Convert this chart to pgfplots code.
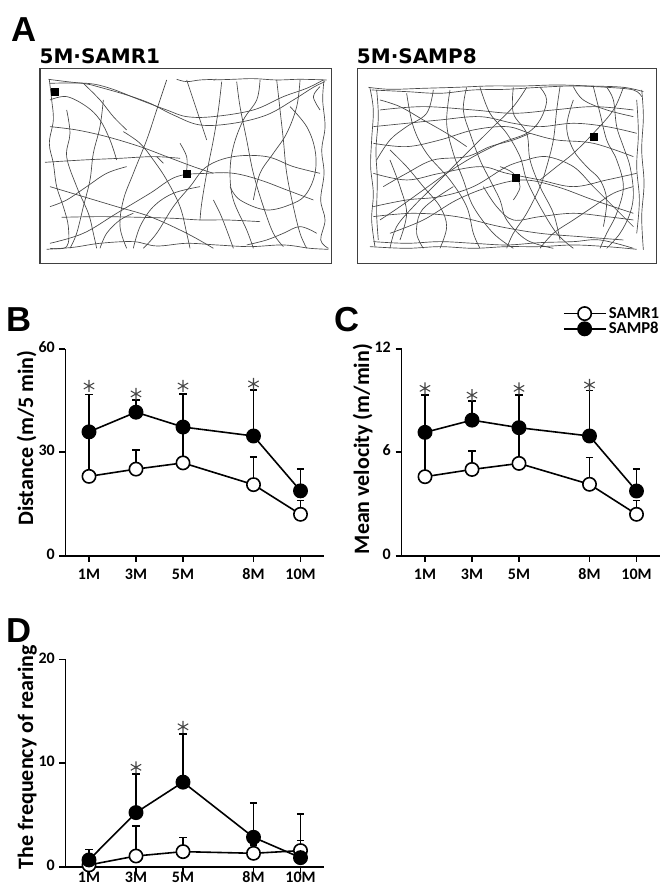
\documentclass[border=0pt]{standalone}
\usepackage{fontspec}
\setmainfont{Carlito}
\newfontfamily\djv{DejaVu Sans}
\newfontfamily\lib{Liberation Sans}
\usepackage{pgfplots}
\pgfplotsset{compat=1.18}

\newcommand{\tickfont}{\fontsize{12pt}{14pt}\selectfont\bfseries}
\newcommand{\labfont}{\fontsize{16.5pt}{19pt}\selectfont\bfseries}
\newcommand{\letfont}{\lib\fontsize{26pt}{28pt}\selectfont\bfseries}
\newcommand{\subfont}{\djv\fontsize{15pt}{17pt}\selectfont\bfseries}

\pgfplotsset{
  panel/.style={
    scale only axis, width=193.875pt, height=155.25pt,
    xmin=0, xmax=11, ymin=0,
    axis x line*=bottom, axis y line*=left,
    axis line style={-, line width=1.2pt},
    xtick={1,3,5,8,10}, xticklabels={1M,3M,5M,8M,10M},
    typeset ticklabels with strut,
    tick align=outside, major tick length=4.5pt,
    every tick/.style={black, line width=1.2pt},
    tick label style={font=\tickfont},
    /pgf/number format/assume math mode=true,
    clip=false,
  },
  r1/.style={black, line width=1.2pt, mark=*, mark size=5pt,
    mark options={fill=white, line width=1.2pt},
    error bars/y dir=plus, error bars/y explicit,
    error bars/error bar style={line width=1.2pt},
    error bars/error mark options={rotate=90, line width=1.2pt, mark size=2.7pt}},
  p8/.style={black, line width=1.2pt, mark=*, mark size=5pt,
    mark options={fill=black, line width=1.2pt},
    error bars/y dir=plus, error bars/y explicit,
    error bars/error bar style={line width=1.2pt},
    error bars/error mark options={rotate=90, line width=1.2pt, mark size=2.7pt}},
  star/.style={only marks, mark=asterisk, mark size=4.5pt, black!72,
    mark options={line width=0.8pt}, forget plot},
  arena/.style={scale only axis, height=146.25pt, xtick=\empty, ytick=\empty,
    y dir=reverse, axis line style={black!75, line width=0.9pt}},
  traj/.style={black!72, line width=0.5pt, smooth, tension=0.6, no markers},
}

% distance (m/5 min)
\pgfplotstableread{
x   y     e
1   23.0  12.0
3   25.1  5.5
5   26.9  9.0
8   20.6  8.0
10  12.0  4.0
}\distRone
\pgfplotstableread{
x   y     e
1   35.9  10.8
3   41.6  3.5
5   37.3  9.6
8   34.7  13.4
10  18.8  6.4
}\distPeight
% mean velocity (m/min)
\pgfplotstableread{
x   y     e
1   4.58  2.4
3   5.00  1.07
5   5.35  1.8
8   4.14  1.56
10  2.40  0.8
}\veloRone
\pgfplotstableread{
x   y     e
1   7.15  2.15
3   7.86  1.11
5   7.42  1.91
8   6.94  2.63
10  3.75  1.27
}\veloPeight
% rearing
\pgfplotstableread{
x   y     e
1   0.20  0.6
3   1.06  2.89
5   1.48  1.38
8   1.32  0.8
10  1.58  0.96
}\rearRone
\pgfplotstableread{
x   y     e
1   0.68  1.02
3   5.24  3.70
5   8.17  4.63
8   2.86  3.28
10  0.90  4.20
}\rearPeight

\begin{document}
\begin{tikzpicture}
\useasboundingbox (0,0) rectangle (496.5pt,-665.25pt);

% ---------- A: track plots ----------
\node[anchor=base west, inner sep=0pt] at (8.5pt,-31.5pt) {\letfont A};
\node[anchor=base west, inner sep=0pt] at (29.5pt,-47.5pt) {\subfont 5M·SAMR1};
\node[anchor=base west, inner sep=0pt] at (267.5pt,-47.5pt) {\subfont 5M·SAMP8};

\begin{axis}[arena, at={(30pt,-197.475pt)}, anchor=south west, width=218.775pt,
  xmin=120, xmax=995, ymin=205, ymax=790]
\addplot[traj] coordinates {(145,238) (200,245) (260,252) (300,262) (380,285) (450,310) (520,345) (600,375) (700,370) (800,345) (880,300) (940,262) (975,245)};
\addplot[traj] coordinates {(150,250) (260,250) (330,265) (420,300) (500,330) (560,350) (640,350) (760,330) (850,290) (920,265) (970,240)};
\addplot[traj] coordinates {(640,240) (700,238) (760,236) (830,240) (900,238) (980,240)};
\addplot[traj] coordinates {(530,238) (560,245) (600,240) (650,238)};
\addplot[traj] coordinates {(148,240) (155,300) (160,360) (148,430) (160,490) (170,560) (190,620) (205,680) (200,740) (150,745)};
\addplot[traj] coordinates {(140,748) (220,742) (300,730) (400,725) (470,738) (560,730) (650,735) (750,740) (850,735) (930,745) (985,748)};
\addplot[traj] coordinates {(972,240) (968,300) (975,380) (965,450) (972,520) (962,600) (975,660) (962,720) (985,745)};
\addplot[traj] coordinates {(135,487) (250,480) (360,475) (460,470) (540,475)};
\addplot[traj] coordinates {(185,652) (300,650) (420,652) (520,655) (600,660) (680,660) (780,665)};
\addplot[traj] coordinates {(150,730) (250,700) (350,640) (450,580) (530,530) (620,520) (700,520) (780,540) (860,570) (940,600)};
\addplot[traj] coordinates {(665,245) (655,330) (640,420) (620,520) (605,610) (600,660)};
\addplot[traj] coordinates {(710,245) (720,320) (740,420) (760,520) (790,620) (820,700) (850,740)};
\addplot[traj] coordinates {(870,320) (920,380) (945,450) (945,520) (920,580) (880,610) (800,630) (720,600) (690,560)};
\addplot[traj] coordinates {(780,240) (770,300) (730,360) (700,440) (690,520) (700,600) (740,690) (760,745)};
\addplot[traj] coordinates {(200,330) (210,400) (200,470) (230,560) (265,640) (280,700) (290,745)};
\addplot[traj] coordinates {(370,395) (420,430) (460,480) (500,540) (540,620) (560,700) (570,745)};
\addplot[traj] coordinates {(500,240) (470,330) (440,420) (400,520) (370,600) (360,680) (380,745)};
\addplot[traj] coordinates {(310,300) (300,380) (280,460) (270,540) (250,620) (230,700) (210,745)};
\addplot[traj] coordinates {(150,560) (250,590) (350,620) (450,650) (560,700) (640,745)};
\addplot[traj] coordinates {(830,240) (840,330) (850,420) (860,520) (880,620) (900,700) (920,745)};
\addplot[traj] coordinates {(150,380) (230,390) (320,410) (420,440) (500,470) (580,500) (640,520)};
\addplot[traj] coordinates {(430,745) (470,700) (520,620) (570,560) (620,500) (700,470) (800,470) (880,500) (960,520)};
\addplot[traj] coordinates {(150,300) (200,290) (260,320) (300,360) (330,420) (350,480)};
\addplot[traj] coordinates {(560,240) (580,300) (600,360) (620,420)};
\addplot[traj] coordinates {(900,240) (890,320) (860,400) (820,460) (780,520) (760,600)};
\addplot[traj] coordinates {(400,745) (420,680) (460,620) (520,580) (600,560)};
\addplot[traj] coordinates {(150,620) (200,600) (260,560) (320,520) (380,500)};
\addplot[traj] coordinates {(700,745) (680,690) (660,640) (640,600)};
\addplot[traj] coordinates {(950,700) (900,680) (850,700) (800,720) (740,735)};
\addplot[traj] coordinates {(250,250) (300,300) (340,350) (380,390)};
\addplot[traj] coordinates {(960,330) (940,290) (960,260)};
\addplot[traj] coordinates {(300,745) (320,700) (360,660) (400,640)};
\addplot[traj] coordinates {(470,470) (490,490)};
\addplot[traj] coordinates {(540,430) (560,470) (560,510)};
\addplot[only marks, mark=square*, mark size=2.6pt, black] coordinates {(165,275) (560,522)};
\end{axis}

\begin{axis}[arena, at={(267.975pt,-197.475pt)}, anchor=south west, width=224.55pt,
  xmin=52, xmax=950, ymin=205, ymax=790]
\addplot[traj] coordinates {(85,262) (150,268) (250,265) (350,262) (450,258) (550,258) (650,255) (750,258) (850,262) (910,275)};
\addplot[traj] coordinates {(95,270) (200,275) (300,280) (400,270) (500,268) (600,262) (700,258) (800,262) (880,270) (905,290)};
\addplot[traj] coordinates {(90,265) (100,330) (95,420) (92,500) (100,580) (95,660) (105,740)};
\addplot[traj] coordinates {(110,270) (115,350) (108,450) (112,540) (110,640) (115,720)};
\addplot[traj] coordinates {(90,740) (200,745) (300,740) (400,745) (500,740) (600,740) (700,735) (800,740) (890,748)};
\addplot[traj] coordinates {(100,725) (200,730) (300,725) (400,730) (500,735) (600,728) (700,725) (780,720) (880,745)};
\addplot[traj] coordinates {(905,270) (910,350) (905,450) (912,550) (905,650) (910,750)};
\addplot[traj] coordinates {(890,300) (895,400) (890,500) (898,600) (890,700)};
\addplot[traj] coordinates {(120,330) (250,320) (400,330) (520,340) (640,330) (760,320) (880,330)};
\addplot[traj] coordinates {(100,430) (200,440) (300,420) (400,390) (500,380) (570,400) (650,420) (760,430) (880,470)};
\addplot[traj] coordinates {(100,620) (200,600) (300,590) (400,560) (500,500) (560,480)};
\addplot[traj] coordinates {(130,560) (200,520) (280,480) (380,470) (450,440) (520,420) (570,400)};
\addplot[traj] coordinates {(100,650) (220,640) (350,650) (480,680) (600,700) (720,710) (850,720)};
\addplot[traj] coordinates {(150,700) (250,660) (350,600) (450,560) (550,540) (650,560) (760,600) (880,640)};
\addplot[traj] coordinates {(200,280) (220,380) (260,460) (330,540) (380,620) (400,700) (420,745)};
\addplot[traj] coordinates {(330,270) (320,370) (340,460) (370,540) (400,620) (460,700) (520,745)};
\addplot[traj] coordinates {(420,262) (450,340) (500,400) (540,470) (560,540) (600,620) (650,700) (700,745)};
\addplot[traj] coordinates {(520,262) (520,340) (560,400) (570,480) (600,560) (640,640) (660,720)};
\addplot[traj] coordinates {(660,260) (650,330) (640,420) (620,500) (600,560) (560,640) (520,700) (500,745)};
\addplot[traj] coordinates {(760,260) (780,340) (800,420) (830,480) (850,560) (830,640) (800,700) (780,745)};
\addplot[traj] coordinates {(850,262) (820,330) (760,400) (700,460) (650,500) (600,540)};
\addplot[traj] coordinates {(150,480) (180,560) (200,640) (180,720)};
\addplot[traj] coordinates {(280,270) (260,340) (200,380) (150,420) (110,480)};
\addplot[traj] coordinates {(560,480) (620,470) (700,500) (760,560) (820,620) (880,680)};
\addplot[traj] coordinates {(300,745) (320,680) (300,620) (250,560) (200,500) (150,450)};
\addplot[traj] coordinates {(700,260) (730,300) (800,330) (880,350)};
\addplot[traj] coordinates {(430,560) (470,620) (520,660) (600,650) (700,640) (800,650) (880,660)};
\addplot[traj] coordinates {(600,262) (620,300) (600,360) (560,400) (480,430) (400,470) (320,520) (250,570) (180,620) (120,660)};
\addplot[traj] coordinates {(100,380) (200,370) (300,360) (420,350) (520,370) (600,380) (700,370) (800,380) (890,400)};
\addplot[traj] coordinates {(100,520) (200,540) (300,520) (420,500) (500,520) (600,540) (700,560) (800,540) (890,520)};
\addplot[traj] coordinates {(150,745) (170,680) (220,620) (280,560) (340,500) (400,440) (460,380) (520,320) (560,262)};
\addplot[traj] coordinates {(600,745) (640,700) (700,660) (760,620) (820,580) (880,560)};
\addplot[traj] coordinates {(250,745) (230,700) (240,640) (280,600) (340,560)};
\addplot[traj] coordinates {(800,745) (840,700) (870,640) (880,580) (870,500) (850,440) (830,380) (820,300) (800,262)};
\addplot[traj] coordinates {(380,262) (370,330) (390,400) (420,480) (450,540) (480,600) (500,660) (560,720) (640,745)};
\addplot[traj] coordinates {(120,300) (180,320) (250,360) (320,400) (380,440)};
\addplot[traj] coordinates {(700,300) (680,380) (700,450) (740,500) (780,540) (800,600) (790,680)};
\addplot[traj] coordinates {(480,500) (520,520) (540,560) (520,600)};
\addplot[only marks, mark=square*, mark size=2.6pt, black] coordinates {(528,533) (760,410)};
\end{axis}

% ---------- B: distance ----------
\node[anchor=base west, inner sep=0pt] at (5pt,-249pt) {\letfont B};
\begin{axis}[panel, at={(49.125pt,-416.775pt)}, anchor=south west,
  ymax=60, ytick={0,30,60},
  ylabel={Distance (m/5 min)},
  ylabel style={font=\labfont, at={(axis description cs:-0.15,0.568)}, anchor=center}]
\addplot[r1] table[x=x, y=y, y error=e] {\distRone};
\addplot[p8] table[x=x, y=y, y error=e] {\distPeight};
\addplot[star] coordinates {(1,49.2) (3,46.9) (5,49.2) (8,49.8)};
\end{axis}

% ---------- C: mean velocity ----------
\node[anchor=base west, inner sep=0pt] at (251pt,-249pt) {\letfont C};
\begin{axis}[panel, at={(301.125pt,-416.775pt)}, anchor=south west,
  ymax=12, ytick={0,6,12},
  ylabel={Mean velocity (m/min)},
  ylabel style={font=\labfont, at={(axis description cs:-0.15,0.515)}, anchor=center},
  legend style={at={(axis description cs:1.008,1.215)}, anchor=north east,
    draw=none, fill=none, font=\fontsize{12.5pt}{14pt}\selectfont\bfseries,
    inner sep=0pt, row sep=-2.5pt, cells={anchor=west}},
  legend image code/.code={\draw[mark repeat=2, mark phase=2, #1]
    plot coordinates {(0cm,0cm) (0.55cm,0cm) (1.1cm,0cm)};}]
\addplot[r1] table[x=x, y=y, y error=e] {\veloRone};
\addlegendentry{SAMR1}
\addplot[p8] table[x=x, y=y, y error=e] {\veloPeight};
\addlegendentry{SAMP8}
\addplot[star] coordinates {(1,9.7) (3,9.31) (5,9.7) (8,9.9)};
\end{axis}

% ---------- D: rearing ----------
\node[anchor=base west, inner sep=0pt] at (5pt,-482pt) {\letfont D};
\begin{axis}[panel, at={(49.125pt,-650.25pt)}, anchor=south west, height=155.775pt,
  ymax=20, ytick={0,10,20},
  xticklabel style={yshift=6pt},
  ylabel={The frequency of rearing},
  ylabel style={font=\labfont, at={(axis description cs:-0.148,0.53)}, anchor=center}]
\addplot[r1] table[x=x, y=y, y error=e] {\rearRone};
\addplot[p8] table[x=x, y=y, y error=e] {\rearPeight};
\addplot[star] coordinates {(3,9.6) (5,13.5)};
\end{axis}
\end{tikzpicture}
\end{document}
